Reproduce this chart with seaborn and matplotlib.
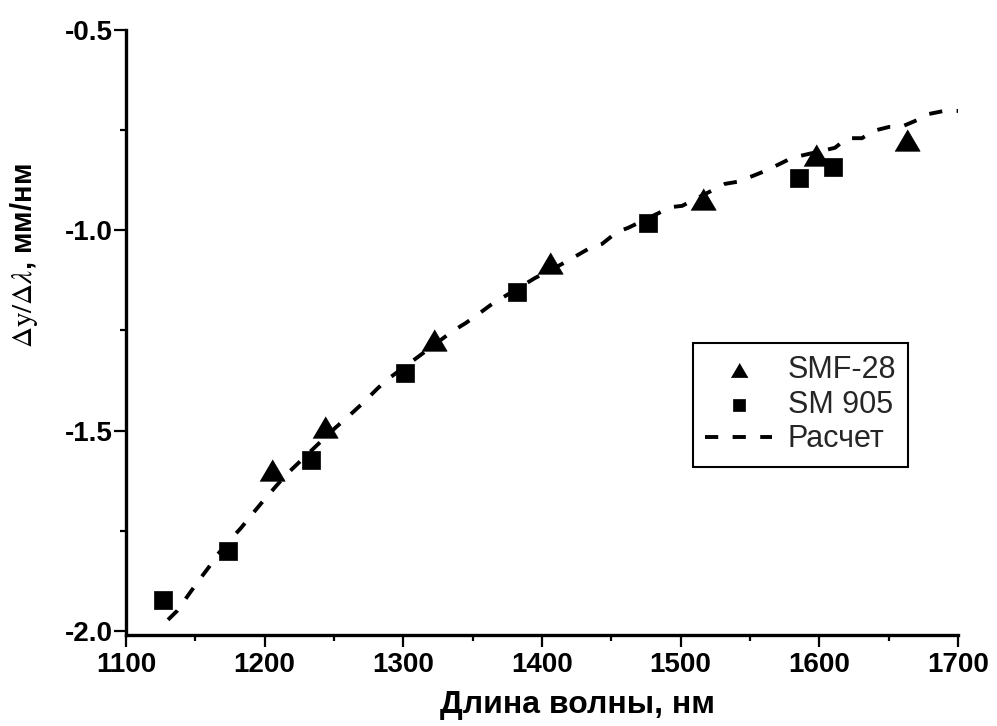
import matplotlib
matplotlib.use("Agg")
import matplotlib.pyplot as plt
from matplotlib.ticker import AutoMinorLocator
import seaborn as sns

# Measured sensitivity for two fibre types
smf_x = [1205.3, 1243.5, 1322.1, 1405.8, 1516.1, 1597.6, 1663.2]
smf_y = [-1.598, -1.491, -1.274, -1.081, -0.922, -0.812, -0.775]

sm905_x = [1126.7, 1173.6, 1233.4, 1301.2, 1382.0, 1476.4, 1585.3, 1609.8]
sm905_y = [-1.922, -1.800, -1.573, -1.356, -1.154, -0.982, -0.869, -0.842]

# Calculated curve
calc_x = [1130.3, 1136.8, 1145.4, 1151.2, 1159.9, 1166.3, 1175.0, 1182.9,
          1192.3, 1199.5, 1209.6, 1216.1, 1249.3, 1263.0, 1270.9, 1281.0,
          1288.2, 1305.5, 1335.8, 1345.2, 1355.3, 1363.9, 1395.0, 1403.6,
          1414.4, 1423.1, 1434.6, 1443.3, 1454.1, 1462.0, 1493.0, 1501.0,
          1532.0, 1540.6, 1552.2, 1560.8, 1571.6, 1580.3, 1611.3, 1619.9,
          1630.8, 1638.7, 1650.2, 1658.9, 1670.4, 1678.4, 1689.9, 1700.0]
calc_y = [-1.972, -1.950, -1.908, -1.880, -1.840, -1.808, -1.773, -1.743,
          -1.703, -1.673, -1.633, -1.608, -1.498, -1.456, -1.431, -1.396,
          -1.373, -1.329, -1.251, -1.231, -1.206, -1.184, -1.119, -1.104,
          -1.084, -1.067, -1.044, -1.034, -1.004, -0.994, -0.942, -0.939,
          -0.884, -0.879, -0.864, -0.852, -0.834, -0.819, -0.794, -0.770,
          -0.770, -0.752, -0.742, -0.742, -0.725, -0.710, -0.702, -0.702]

labels = ["SMF-28", "SM 905", "Расчет"]
x_ticks = [1100, 1200, 1300, 1400, 1500, 1600, 1700]
y_ticks = [-2.0, -1.5, -1.0, -0.5]

sns.set_theme(style="ticks")
plt.rcParams["font.family"] = ["Liberation Sans", "DejaVu Sans"]
plt.rcParams["mathtext.fontset"] = "stix"

W, H = 997, 726
fig = plt.figure(figsize=(W / 100, H / 100), dpi=100)
fig.patch.set_facecolor("white")
ax = fig.add_axes([126 / W, (H - 635) / H, 832 / W, 605 / H])
ax.set_facecolor("white")

tri = [(-1.0, -0.85), (1.0, -0.85), (0.0, 0.85)]

sns.lineplot(x=calc_x, y=calc_y, ax=ax, sort=False, color="black",
             linewidth=2.8, linestyle=(0, (3.4, 3.7)), label=labels[2],
             zorder=2)
sns.scatterplot(x=smf_x, y=smf_y, ax=ax, marker=tri, s=330, color="black",
                edgecolor="black", linewidth=0.5, label=labels[0], zorder=3)
sns.scatterplot(x=sm905_x, y=sm905_y, ax=ax, marker="s", s=175,
                color="black", edgecolor="black", linewidth=0.5,
                label=labels[1], zorder=3)

ax.set_xlim(1100, 1700)
ax.set_ylim(-2.01, -0.5)
ax.set_xticks(x_ticks)
ax.set_yticks(y_ticks)
ax.set_xticklabels([str(t) for t in x_ticks])
ax.set_yticklabels([f"{t:.1f}" for t in y_ticks])
ax.xaxis.set_minor_locator(AutoMinorLocator(2))
ax.yaxis.set_minor_locator(AutoMinorLocator(2))

for side in ("top", "right"):
    ax.spines[side].set_visible(False)
for side in ("left", "bottom"):
    ax.spines[side].set_linewidth(2.4)
    ax.spines[side].set_color("black")

ax.tick_params(axis="both", which="major", direction="out", length=8.5,
               width=1.6, color="black", labelsize=20, labelcolor="black")
ax.tick_params(axis="both", which="minor", direction="out", length=4,
               width=1.6, color="black")
ax.tick_params(axis="x", which="major", pad=4)
ax.tick_params(axis="y", which="major", pad=1)
for lab in ax.get_xticklabels() + ax.get_yticklabels():
    lab.set_fontweight("bold")

ax.set_xlabel("Длина волны, нм", fontsize=23, fontweight="bold",
              color="black")
ax.xaxis.set_label_coords((577 - 126) / 832, -(705 - 635) / 605)
ax.xaxis.label.set_va("center")

ax.set_ylabel(r"$\Delta\mathrm{y}/\Delta\lambda$, мм/нм", fontsize=21,
              fontweight="bold", color="black")
ax.yaxis.set_label_coords((24 - 126) / 832, (635 - 256) / 605)
ax.yaxis.label.set_va("center")

handles, labs = ax.get_legend_handles_labels()
order = [labs.index(l) for l in labels]
leg = ax.legend([handles[i] for i in order], [labs[i] for i in order],
                loc="upper left", bbox_to_anchor=((693 - 126) / 832,
                                                  (635 - 343) / 605),
                fontsize=22, frameon=True, fancybox=False, framealpha=1,
                edgecolor="black", handlelength=2.2, handletextpad=0.5,
                labelspacing=0.15, borderpad=0.4, borderaxespad=0,
                markerscale=0.66)
leg.get_frame().set_linewidth(1.5)

fig.savefig("out.png", dpi=100, facecolor="white")
